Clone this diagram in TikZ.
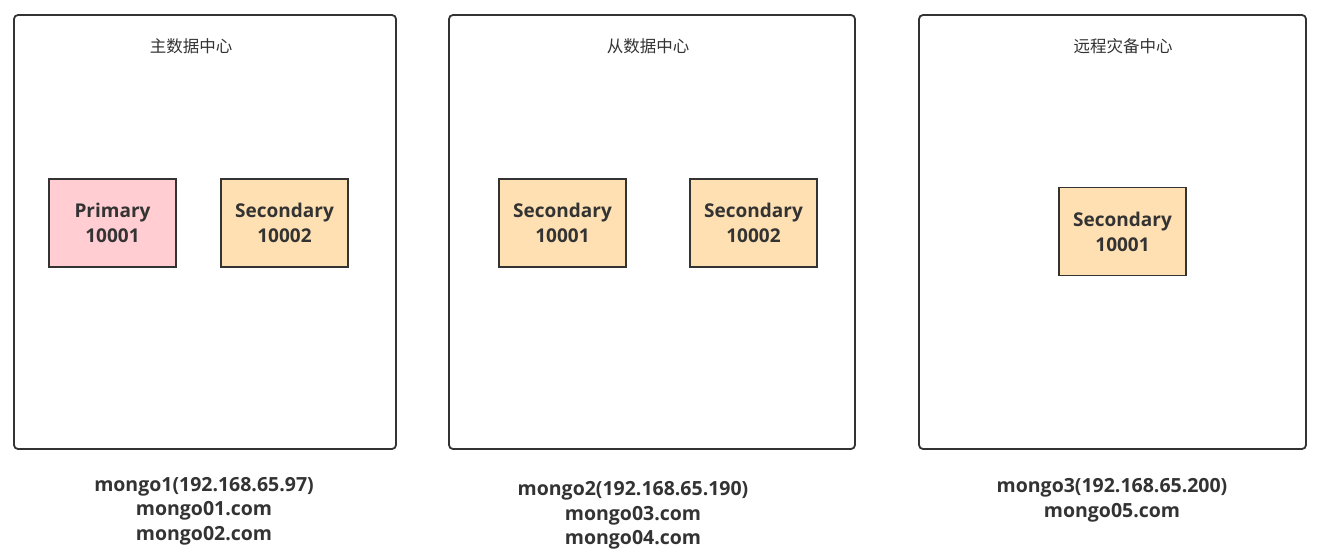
\documentclass[tikz,border=0pt]{standalone}
\usepackage{fontspec}
\setmainfont{Open Sans}
\newfontfamily\cjk{Noto Sans CJK SC}
\definecolor{ink}{RGB}{51,51,51}
\definecolor{pinkfill}{RGB}{255,205,210}
\definecolor{peachfill}{RGB}{255,224,178}
\begin{document}
\begin{tikzpicture}[x=1pt,y=-1pt,every node/.style={text=ink},
  site/.style={draw=ink,line width=1.8pt,rounded corners=4pt,minimum height=434pt},
  sitename/.style={font=\cjk\fontsize{16.5}{18}\selectfont},
  member/.style={draw=ink,line width=1.8pt,minimum width=127pt,minimum height=88pt,inner sep=0pt,align=center,font=\bfseries\fontsize{19}{25}\selectfont},
  host/.style={align=center,font=\bfseries\fontsize{19.5}{24.5}\selectfont}]
  \useasboundingbox (0,0) rectangle (1319,555);
  % data centres
  \node[site,minimum width=382pt] (main) at (205,232) {};
  \node[site,minimum width=406pt] (standby) at (652,232) {};
  \node[site,minimum width=387pt] (remote) at (1112.5,232) {};
  \node[sitename] (mainname) at (191,46) {主数据中心};
  \node[sitename] (standbyname) at (648,46) {从数据中心};
  \node[sitename] (remotename) at (1123,46) {远程灾备中心};
  % replica set members
  \node[member,fill=pinkfill] (p1) at (112.5,223) {Primary\\10001};
  \node[member,fill=peachfill] (s1) at (284.5,223) {Secondary\\10002};
  \node[member,fill=peachfill] (s2) at (562.5,223) {Secondary\\10001};
  \node[member,fill=peachfill] (s3) at (753.5,223) {Secondary\\10002};
  \node[member,fill=peachfill] (s4) at (1122.5,231.5) {Secondary\\10001};
  % hosts
  \node[host] (host1) at (204,511) {mongo1(192.168.65.97)\\mongo01.com\\mongo02.com};
  \node[host] (host2) at (633,515.5) {mongo2(192.168.65.190)\\mongo03.com\\mongo04.com};
  \node[host] (host3) at (1112,500.5) {mongo3(192.168.65.200)\\mongo05.com};
\end{tikzpicture}
\end{document}
